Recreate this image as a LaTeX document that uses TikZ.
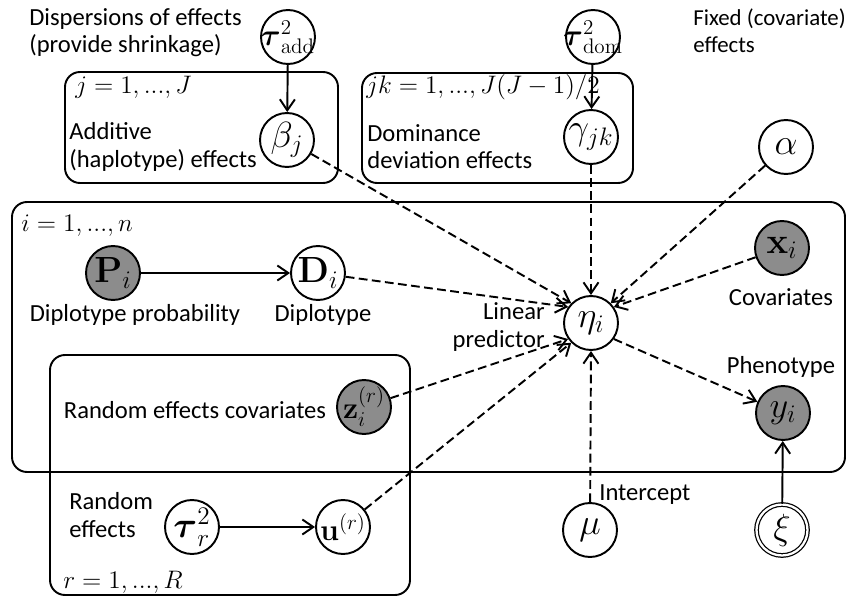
\documentclass[tikz,border=0pt]{standalone}
\usepackage{amsmath,amssymb}
\usepackage[no-math]{fontspec}
\setmainfont{Carlito}
\usetikzlibrary{arrows.meta}

\begin{document}
\begin{tikzpicture}[
    x=0.02cm, y=-0.02cm,
    var/.style={circle, draw, line width=1.1pt, fill=white, minimum size=1.08cm, inner sep=-4pt, font=\fontsize{20}{20}\selectfont},
    obs/.style={var, fill=black!45},
    fixedvar/.style={var, line width=0.7pt, double, double distance=1.3pt, minimum size=1.02cm},
    hyper/.style={var, font=\fontsize{17}{17}\selectfont},
    plate/.style={draw, line width=1.1pt, rounded corners=0.3cm},
    lbl/.style={font=\fontsize{14}{15.5}\selectfont, align=left, inner sep=0pt},
    idx/.style={font=\fontsize{14}{14}\selectfont, inner sep=0pt, anchor=west},
    dep/.style={-{Straight Barb[length=2.2mm,width=3mm]}, line width=1.1pt, dash pattern=on 5pt off 2.5pt},
    link/.style={-{Straight Barb[length=2.2mm,width=3mm]}, line width=1.1pt}
]
    \useasboundingbox (0,0) rectangle (849,598);

    % plates
    \draw[plate] (65,72) rectangle (338,183);
    \draw[plate] (362,73) rectangle (633,183);
    \draw[plate] (12,202) rectangle (845,472);
    \draw[plate] (50,355) rectangle (410,595);

    % index labels
    \node[idx] (jidx) at (75,87) {$j = 1,...,J$};
    \node[idx] (jkidx) at (366,87) {$jk = 1,...,J(J-1)/2$};
    \node[idx] (iidx) at (21,226) {$i = 1,...,n$};
    \node[idx] (ridx) at (63,582) {$r = 1,...,R$};

    % variables
    \node[hyper] (tauadd) at (288,37) {$\boldsymbol{\tau}^2_{\mathrm{add}}$};
    \node[var] (beta) at (287,140) {$\beta_j$};
    \node[hyper] (taudom) at (593,37) {$\boldsymbol{\tau}^2_{\mathrm{dom}}$};
    \node[var] (gamma) at (591,137) {$\gamma_{jk}$};
    \node[var] (alpha) at (786,147) {$\alpha$};
    \node[obs] (P) at (113,273) {$\mathbf{P}_i$};
    \node[var] (D) at (318,273) {$\mathbf{D}_i$};
    \node[var] (eta) at (591,323) {$\eta_i$};
    \node[obs] (x) at (782,248) {$\mathbf{x}_i$};
    \node[obs] (y) at (783,413) {$y_i$};
    \node[obs, font=\fontsize{18}{18}\selectfont] (z) at (364,407) {$\mathbf{z}_i^{(r)}$};
    \node[var] (taur) at (192,527) {$\boldsymbol{\tau}_r^2$};
    \node[var, font=\fontsize{18}{18}\selectfont] (u) at (343,527) {$\mathbf{u}^{(r)}$};
    \node[var] (mu) at (590,530) {$\mu$};
    \node[fixedvar] (xi) at (782,530) {$\xi$};

    % text labels
    \node[lbl, anchor=west] (disp) at (29,33) {Dispersions of effects\\(provide shrinkage)};
    \node[lbl, anchor=west] (addlbl) at (69,147) {Additive\\(haplotype) effects};
    \node[lbl, anchor=west] (domlbl) at (367,147) {Dominance\\deviation effects};
    \node[lbl, anchor=west, font=\fontsize{13}{15.5}\selectfont] (fixlbl) at (693,31) {Fixed (covariate)\\effects};
    \node[lbl] (plbl) at (135,315) {Diplotype probability};
    \node[lbl] (dlbl) at (323,315) {Diplotype};
    \node[lbl, align=right, anchor=east] (etalbl) at (545,327) {Linear\\predictor};
    \node[lbl] (xlbl) at (781,297) {Covariates};
    \node[lbl] (ylbl) at (781,367) {Phenotype};
    \node[lbl] (zlbl) at (195,410) {Random effects covariates};
    \node[lbl, anchor=west] (ulbl) at (69,515) {Random\\effects};
    \node[lbl, anchor=west] (mulbl) at (599,495) {Intercept};

    % solid links
    \foreach \from/\to in {tauadd/beta, taudom/gamma, P/D, taur/u, xi/y}
        \draw[link] (\from) -- (\to);

    % dashed links into the linear predictor
    \foreach \from/\side in {beta/135, D/145, gamma/90, alpha/45, x/35, z/215, u/225, mu/270}
        \draw[dep] (\from) -- (eta.\side);
    \draw[dep] (eta.-35) -- (y);
\end{tikzpicture}
\end{document}
